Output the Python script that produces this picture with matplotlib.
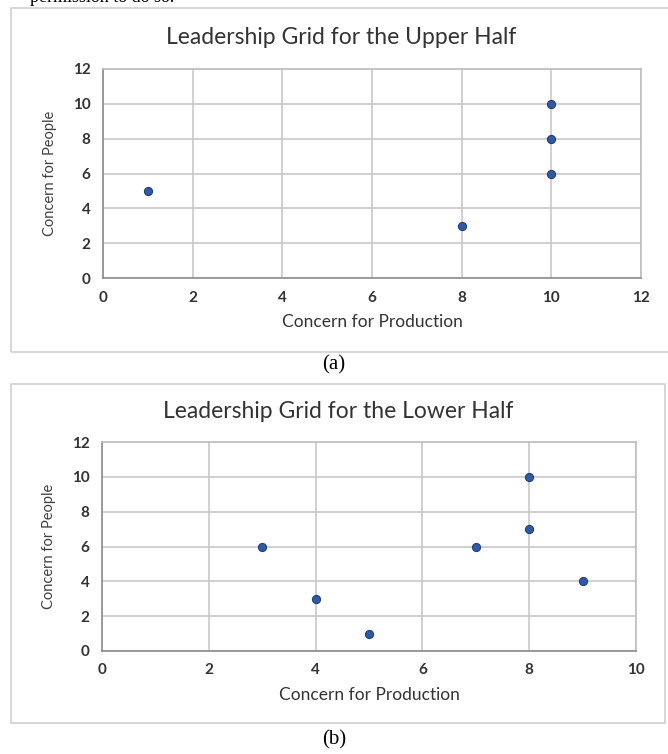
import numpy as np
import matplotlib
matplotlib.use("Agg")
import matplotlib.pyplot as plt
from matplotlib.patches import Rectangle

# upper half: (production, people)
upper_x = [1, 8, 10, 10, 10]
upper_y = [5, 3, 10, 8, 6]
# lower half
lower_x = [3, 4, 5, 7, 8, 8, 9]
lower_y = [6, 3, 1, 6, 10, 7, 4]

W, H = 668, 754
fig = plt.figure(figsize=(W / 100, H / 100), dpi=100)
plt.rcParams['font.family'] = ['Lato', 'DejaVu Sans']


def fr(x0, y0, x1, y1):
    # pixel box (top-left origin) -> figure fraction rect
    return [x0 / W, 1 - y1 / H, (x1 - x0) / W, (y1 - y0) / H]


def panel(box, ax_box, xs, ys, xmax, title, title_y, xlabel_y):
    bx0, by0, bx1, by1 = box
    fig.patches.append(Rectangle((bx0 / W, 1 - by1 / H), (bx1 - bx0) / W, (by1 - by0) / H,
                                 transform=fig.transFigure, fill=False,
                                 edgecolor='#cfcfcf', linewidth=1.2))
    ax = fig.add_axes(fr(*ax_box))
    ax.scatter(xs, ys, s=34, color='#2f5aa8', edgecolors='#1f3f80', linewidths=0.8, zorder=3)
    ax.set_xlim(0, xmax)
    ax.set_ylim(0, 12)
    ax.set_xticks(np.arange(0, xmax + 1, 2))
    ax.set_yticks(np.arange(0, 13, 2))
    ax.grid(True, color='#c8c8c8', linewidth=1.2)
    ax.set_axisbelow(True)
    for s in ax.spines.values():
        s.set_color('#bfbfbf')
        s.set_linewidth(1.2)
    ax.spines['bottom'].set_color('#8c8c8c')
    ax.spines['left'].set_color('#8c8c8c')
    ax.tick_params(length=0, labelsize=11, colors='#333333', pad=9)
    for lab in ax.get_xticklabels() + ax.get_yticklabels():
        lab.set_fontweight('bold')
    ax.set_ylabel('Concern for People', fontsize=10.5, color='#404040', labelpad=11)
    cx = (bx0 + bx1) / 2
    fig.text(cx / W, 1 - title_y / H, title, ha='center', va='center',
             fontsize=16.5, color='#333333')
    fig.text((ax_box[0] + ax_box[2]) / 2 / W, 1 - xlabel_y / H, 'Concern for Production',
             ha='center', va='center', fontsize=12.5, color='#333333')
    return ax


fig.text(30 / W, 1 + 3 / H, 'permission to do so.', ha='left', va='center',
         fontsize=13, family='Liberation Serif', color='black')

panel((11, 8, 672, 352), (103, 69, 641, 278), upper_x, upper_y, 12,
      'Leadership Grid for the Upper Half', 38, 322)
panel((11, 384, 665, 723), (102, 442, 636, 651), lower_x, lower_y, 10,
      'Leadership Grid for the Lower Half', 411, 695)

fig.text(334 / W, 1 - 365 / H, '(a)', ha='center', va='center', fontsize=15,
         family='Liberation Serif')
fig.text(334 / W, 1 - 740 / H, '(b)', ha='center', va='center', fontsize=15,
         family='Liberation Serif')

fig.savefig('out.png', dpi=100)
